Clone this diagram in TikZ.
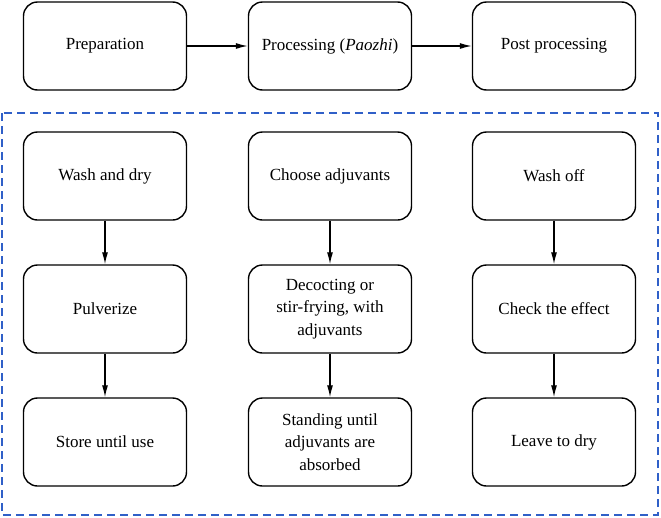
\documentclass[tikz,border=0pt]{standalone}
\usepackage{fontspec}
\setmainfont{Liberation Serif}
\usetikzlibrary{positioning,arrows.meta}

\definecolor{frameblue}{RGB}{48,96,200}

\tikzset{
  stepbox/.style={draw, line width=1.4pt, rounded corners=14pt,
    minimum width=163pt, minimum height=88pt, inner sep=0pt,
    align=center, font=\fontsize{17}{22.5}\selectfont},
  flow/.style={-{Latex[length=12pt,width=6pt]}, line width=1.3pt}
}

\begin{document}
\begin{tikzpicture}[x=1pt,y=-1pt]
\useasboundingbox (0,0) rectangle (661,517);
% top row
\node[stepbox] (prep) at (105,46) {Preparation};
\node[stepbox] (proc) at (330,46) {Processing (\textit{Paozhi})};
\node[stepbox] (post) at (554,46) {Post processing};
\draw[flow] (prep) -- (proc);
\draw[flow] (proc) -- (post);
% dashed frame
\draw[frameblue, line width=1.3pt, dash pattern=on 8pt off 5pt] (2,113) rectangle (658,515);
% preparation
\node[stepbox] (wash) at (105,176) {Wash and dry};
\node[stepbox] (pulv) at (105,309) {Pulverize};
\node[stepbox] (store) at (105,442) {Store until use};
% processing
\node[stepbox] (choose) at (330,176) {Choose adjuvants};
\node[stepbox] (decoct) at (330,309) {Decocting or\\ stir-frying, with\\ adjuvants};
\node[stepbox] (stand) at (330,442) {Standing until\\ adjuvants are\\ absorbed};
% post processing
\node[stepbox] (washoff) at (554,176) {Wash off};
\node[stepbox] (check) at (554,309) {Check the effect};
\node[stepbox] (leave) at (554,442) {Leave to dry};
\draw[flow] (wash) -- (pulv);
\draw[flow] (pulv) -- (store);
\draw[flow] (choose) -- (decoct);
\draw[flow] (decoct) -- (stand);
\draw[flow] (washoff) -- (check);
\draw[flow] (check) -- (leave);
\end{tikzpicture}
\end{document}
